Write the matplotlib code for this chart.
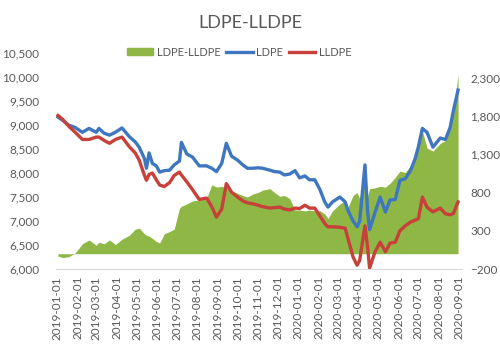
import matplotlib
matplotlib.use("Agg")
import matplotlib.pyplot as plt
from matplotlib.patches import Patch
from matplotlib.lines import Line2D
import numpy as np
import pandas as pd

plt.rcParams['font.family'] = ['Lato', 'DejaVu Sans']

dates = ["2019-01-02", "2019-01-09", "2019-01-18", "2019-01-28", "2019-02-08", "2019-02-18",
         "2019-03-01", "2019-03-05", "2019-03-13", "2019-03-21", "2019-03-30", "2019-04-09",
         "2019-04-20", "2019-04-29", "2019-05-05", "2019-05-13", "2019-05-16", "2019-05-20",
         "2019-05-25", "2019-05-31", "2019-06-05", "2019-06-12", "2019-06-20", "2019-06-27",
         "2019-07-05", "2019-07-08", "2019-07-16", "2019-07-25", "2019-08-04", "2019-08-15",
         "2019-08-23", "2019-08-30", "2019-09-07", "2019-09-14", "2019-09-22", "2019-10-01",
         "2019-10-09", "2019-10-16", "2019-10-24", "2019-11-01", "2019-11-08", "2019-11-19",
         "2019-11-26", "2019-12-04", "2019-12-11", "2019-12-19", "2019-12-27", "2020-01-03",
         "2020-01-11", "2020-01-18", "2020-01-26", "2020-02-03", "2020-02-10", "2020-02-15",
         "2020-02-22", "2020-03-04", "2020-03-12", "2020-03-16", "2020-03-24", "2020-03-30",
         "2020-04-03", "2020-04-11", "2020-04-15", "2020-04-18", "2020-04-26", "2020-05-04",
         "2020-05-12", "2020-05-19", "2020-05-27", "2020-06-03", "2020-06-11", "2020-06-19",
         "2020-06-26", "2020-07-01", "2020-07-07", "2020-07-14", "2020-07-23", "2020-08-03",
         "2020-08-11", "2020-08-18", "2020-08-23", "2020-08-30"]

ldpe = [9167, 9100, 9000, 8950, 8850, 8930, 8850, 8930, 8830, 8790, 8850, 8940,
        8760, 8650, 8540, 8300, 8100, 8420, 8200, 8150, 8020, 8050, 8060, 8170,
        8250, 8640, 8400, 8330, 8150, 8150, 8100, 8030, 8200, 8620, 8350, 8270,
        8170, 8100, 8100, 8110, 8100, 8060, 8030, 8020, 7960, 7980, 8050, 7900,
        7940, 7860, 7860, 7650, 7400, 7290, 7400, 7500, 7400, 7230, 7000, 6880,
        7000, 8170, 7200, 6820, 7170, 7500, 7190, 7440, 7450, 7850, 7880, 8050,
        8300, 8550, 8930, 8850, 8540, 8730, 8700, 8950, 9300, 9730]

lldpe = [9200, 9120, 8980, 8850, 8700, 8700, 8750, 8750, 8680, 8620, 8700, 8750,
         8550, 8420, 8270, 7950, 7850, 7970, 8000, 7860, 7750, 7720, 7800, 7950,
         8020, 7960, 7820, 7650, 7450, 7480, 7300, 7080, 7250, 7780, 7600, 7500,
         7420, 7380, 7360, 7330, 7300, 7270, 7280, 7290, 7250, 7230, 7270, 7260,
         7330, 7270, 7270, 7100, 6950, 6880, 6880, 6870, 6850, 6650, 6250, 6080,
         6180, 6900, 6450, 6020, 6350, 6560, 6360, 6540, 6560, 6800, 6900, 6980,
         7020, 7050, 7500, 7290, 7190, 7270, 7150, 7130, 7160, 7400]

spread = [-30, -50, -40, 10, 130, 180, 110, 150, 130, 180, 120, 190,
          240, 320, 335, 260, 240, 230, 200, 160, 140, 260, 290, 320,
          590, 620, 650, 690, 700, 720, 900, 870, 880, 860, 820, 790,
          760, 740, 780, 800, 830, 850, 800, 750, 760, 720, 570, 570,
          560, 570, 560, 560, 520, 460, 560, 650, 690, 600, 760, 800,
          720, 950, 750, 850, 860, 880, 870, 920, 1000, 1080, 1060, 1150,
          1300, 1430, 1600, 1380, 1340, 1440, 1480, 1640, 1850, 2340]

x = pd.to_datetime(dates)
gray = '#595959'
green = '#8fb746'
blue = '#3f76c0'
red = '#c8403a'
lw = 2.4

fig = plt.figure(figsize=(5, 3.54), dpi=100)
ax = fig.add_axes([0.112, 0.240, 0.812, 0.610])
ax2 = ax.twinx()

# spread on the right axis, drawn under the two price lines
ax2.fill_between(x, 0, spread, color=green, linewidth=0)
ax.plot(x, ldpe, color=blue, lw=lw, solid_joinstyle='round')
ax.plot(x, lldpe, color=red, lw=lw, solid_joinstyle='round')

ax.set_zorder(ax2.get_zorder() + 1)
ax.patch.set_visible(False)

ax.set_ylim(6000, 10500)
ax.set_yticks(np.arange(6000, 10501, 500))
ax.yaxis.set_major_formatter(matplotlib.ticker.StrMethodFormatter('{x:,.0f}'))
ax2.set_ylim(-200, 2620)
ax2.set_yticks(np.arange(-200, 2301, 500))
ax2.yaxis.set_major_formatter(matplotlib.ticker.StrMethodFormatter('{x:,.0f}'))

ax.set_xlim(pd.Timestamp("2018-12-30"), pd.Timestamp("2020-09-05"))
months = pd.date_range("2019-01-01", "2020-09-01", freq="MS")
ax.set_xticks(months)
ax.set_xticklabels([m.strftime("%Y-%m-%d") for m in months], rotation=90)

for a in (ax, ax2):
    for s in a.spines.values():
        s.set_visible(False)
    a.tick_params(length=0, colors=gray, labelsize=8.5)
ax.spines['bottom'].set_visible(True)
ax.spines['bottom'].set_color('#d9d9d9')
ax.tick_params(axis='y', pad=12)
ax2.tick_params(axis='y', pad=6)
ax.tick_params(axis='x', pad=5)

fig.text(0.5, 0.935, "LDPE-LLDPE", ha='center', va='center', fontsize=13, color=gray)

handles = [Patch(color=green, label='LDPE-LLDPE'),
           Line2D([], [], color=blue, lw=lw, label='LDPE'),
           Line2D([], [], color=red, lw=lw, label='LLDPE')]
fig.legend(handles=handles, loc='center', bbox_to_anchor=(0.478, 0.853), ncol=3, frameon=False,
           fontsize=8, labelcolor=gray, handlelength=2.4, handleheight=0.6,
           handletextpad=0.3, columnspacing=0.5)

fig.savefig("out.png", dpi=100)
